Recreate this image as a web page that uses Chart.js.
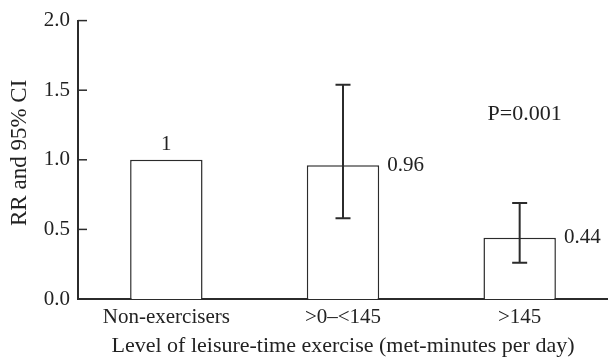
<!DOCTYPE html>
<html>
<head>
<meta charset="utf-8">
<script src="https://cdn.jsdelivr.net/npm/chart.js@4.4.1/dist/chart.umd.min.js"></script>
<style>
  html, body { margin: 0; padding: 0; background: #fff; }
  #wrap { width: 608px; height: 361px; position: relative; }
</style>
</head>
<body>
<div id="wrap"><canvas id="rrChart"></canvas></div>
<script>
const categories = ['Non-exercisers', '>0\u2013<145', '>145'];
const rrValues = [1, 0.96, 0.44];
const ciLower = [null, 0.58, 0.26];
const ciUpper = [null, 1.54, 0.69];
const valueLabels = ['1', '0.96', '0.44'];
const yTicks = [0, 0.5, 1.0, 1.5, 2.0];
const yTitle = 'RR and 95% CI';
const xTitle = 'Level of leisure-time exercise (met-minutes per day)';
const pText = 'P=0.001';

const ink = '#2b2b2b';
const serif = '"Liberation Serif", "Times New Roman", serif';

// error bars, inward ticks, value labels, y title and the P value
const extras = {
    id: 'extras',
    afterDatasetsDraw(chart) {
        const ctx = chart.ctx;
        const x = chart.scales.x;
        const y = chart.scales.y;
        const meta = chart.getDatasetMeta(0);
        ctx.save();
        ctx.strokeStyle = ink;
        ctx.lineWidth = 2;
        rrValues.forEach((v, i) => {
            if (ciLower[i] == null) return;
            const cx = x.getPixelForValue(i);
            const yl = y.getPixelForValue(ciLower[i]);
            const yu = y.getPixelForValue(ciUpper[i]);
            ctx.beginPath();
            ctx.moveTo(cx, yl); ctx.lineTo(cx, yu);
            ctx.moveTo(cx - 7.5, yl); ctx.lineTo(cx + 7.5, yl);
            ctx.moveTo(cx - 7.5, yu); ctx.lineTo(cx + 7.5, yu);
            ctx.stroke();
        });

        ctx.lineWidth = 1.5;
        yTicks.forEach(t => {
            const py = y.getPixelForValue(t);
            ctx.beginPath();
            ctx.moveTo(chart.chartArea.left, py);
            ctx.lineTo(chart.chartArea.left + 9, py);
            ctx.stroke();
        });

        ctx.fillStyle = '#222';
        ctx.font = '21px ' + serif;
        meta.data.forEach((bar, i) => {
            const top = y.getPixelForValue(rrValues[i]);
            if (i === 0) {
                ctx.textAlign = 'center';
                ctx.textBaseline = 'bottom';
                ctx.fillText(valueLabels[i], bar.x, top - 5);
            } else {
                ctx.textAlign = 'left';
                ctx.textBaseline = 'middle';
                ctx.fillText(valueLabels[i], bar.x + bar.width / 2 + 8, top);
            }
        });

        ctx.textAlign = 'center';
        ctx.textBaseline = 'middle';
        ctx.font = '22px ' + serif;
        ctx.fillText(pText, x.getPixelForValue(2) + 5, y.getPixelForValue(1.33));

        ctx.translate(20, y.getPixelForValue(1.05));
        ctx.rotate(-Math.PI / 2);
        ctx.font = '23px ' + serif;
        ctx.fillText(yTitle, 0, 0);
        ctx.restore();
    }
};

new Chart(document.getElementById('rrChart'), {
    type: 'bar',
    data: {
        labels: categories,
        datasets: [{
            label: 'RR',
            data: rrValues,
            backgroundColor: '#ffffff',
            borderColor: ink,
            borderWidth: 1.5,
            barPercentage: 0.41,
            categoryPercentage: 1.0
        }]
    },
    options: {
        responsive: true,
        maintainAspectRatio: false,
        animation: false,
        layout: { padding: { top: 12, right: 0, left: 0, bottom: 0 } },
        plugins: {
            legend: { display: false },
            tooltip: { enabled: false }
        },
        scales: {
            x: {
                grid: { display: false, drawTicks: false },
                border: { display: true, color: ink, width: 2 },
                ticks: {
                    color: '#222',
                    font: { family: serif, size: 21 },
                    padding: 6,
                    maxRotation: 0
                },
                title: {
                    display: true,
                    text: xTitle,
                    color: '#222',
                    font: { family: serif, size: 22 },
                    padding: { top: 4, bottom: 2 }
                },
                afterFit: (scale) => { scale.height = 62; }
            },
            y: {
                min: 0,
                max: 2,
                afterBuildTicks: (scale) => { scale.ticks = yTicks.map(v => ({ value: v })); },
                grid: { display: false, drawTicks: false },
                border: { display: true, color: ink, width: 2 },
                ticks: {
                    color: '#222',
                    font: { family: serif, size: 21 },
                    padding: 8,
                    callback: (v) => Number(v).toFixed(1)
                },
                afterFit: (scale) => { scale.width = 78; }
            }
        }
    },
    plugins: [extras]
});
</script>
</body>
</html>
